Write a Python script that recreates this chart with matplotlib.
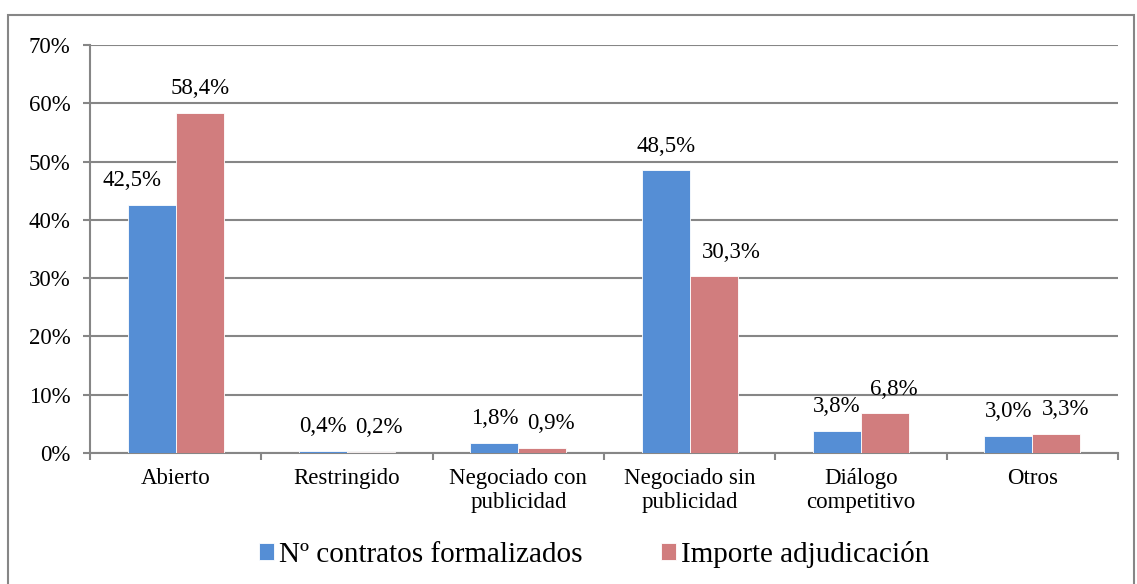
import numpy as np
import matplotlib
matplotlib.use("Agg")
import matplotlib.pyplot as plt
from matplotlib.patches import Rectangle
from matplotlib.ticker import FuncFormatter

plt.rcParams["font.family"] = ["Liberation Serif", "DejaVu Serif"]

# Data
categories = ["Abierto", "Restringido", "Negociado con\npublicidad",
              "Negociado sin\npublicidad", "Diálogo\ncompetitivo", "Otros"]
contratos = [42.5, 0.4, 1.8, 48.5, 3.8, 3.0]
importe = [58.4, 0.2, 0.9, 30.3, 6.8, 3.3]
series_names = ["Nº contratos formalizados", "Importe adjudicación"]
colors = ["#558ED5", "#D17D7E"]

# horizontal nudges of the value labels (points), as placed in the original
label_dx = [[-14, 0, 0, 0, 0, 0],
            [0, 6, 6, 13, 6, 7]]

fig = plt.figure(figsize=(11.37, 5.84), dpi=100)
ax = fig.add_axes([90 / 1137, 1 - 453 / 584, (1118 - 90) / 1137, (453 - 45) / 584])

# outer frame
fig.patches.append(Rectangle((8 / 1137, -0.05), (1134 - 8) / 1137, 0.05 + 1 - 15 / 584,
                             transform=fig.transFigure, fill=False,
                             edgecolor="#868686", linewidth=1.5, zorder=-1))

x = np.arange(len(categories))
w = 0.28
b1 = ax.bar(x - w / 2, contratos, w, color=colors[0], edgecolor="white",
            linewidth=0.6, label=series_names[0], zorder=3)
b2 = ax.bar(x + w / 2, importe, w, color=colors[1], edgecolor="white",
            linewidth=0.6, label=series_names[1], zorder=3)

def fmt(v):
    return f"{v:.1f}".replace(".", ",") + "%"

for i, (bars, vals) in enumerate([(b1, contratos), (b2, importe)]):
    for j, (r, v) in enumerate(zip(bars, vals)):
        ax.annotate(fmt(v), (r.get_x() + r.get_width() / 2, v),
                    xytext=(label_dx[i][j], 17.5), textcoords="offset points",
                    ha="center", va="center", fontsize=16.5, zorder=4)

ax.set_xlim(-0.5, len(categories) - 0.5)
ax.set_ylim(0, 70)
ax.set_yticks(range(0, 71, 10))
ax.yaxis.set_major_formatter(FuncFormatter(lambda v, p: f"{v:.0f}%"))
ax.set_xticks(x)
ax.set_xticklabels(categories, fontsize=16.5, linespacing=1.15)
ax.set_xticks(np.arange(-0.5, len(categories)), minor=True)
ax.tick_params(axis="x", which="major", length=0, pad=11)
ax.tick_params(axis="x", which="minor", length=5, width=1.5, color="#868686")
ax.tick_params(axis="y", length=5, width=1.5, color="#868686", pad=9, labelsize=16.5)

ax.grid(axis="y", color="#868686", linewidth=1.5, zorder=0)
ax.set_axisbelow(True)
for s in ["top", "right"]:
    ax.spines[s].set_visible(False)
for s in ["left", "bottom"]:
    ax.spines[s].set_color("#868686")
    ax.spines[s].set_linewidth(1.5)

leg = fig.legend(handles=[b1, b2], labels=series_names, loc="center",
                 bbox_to_anchor=(594 / 1137, 1 - 554 / 584), ncol=2,
                 frameon=False, fontsize=21, handlelength=0.51, handleheight=0.51,
                 handletextpad=0.17, columnspacing=2.7, borderpad=0)

fig.savefig("out.png", dpi=100)
